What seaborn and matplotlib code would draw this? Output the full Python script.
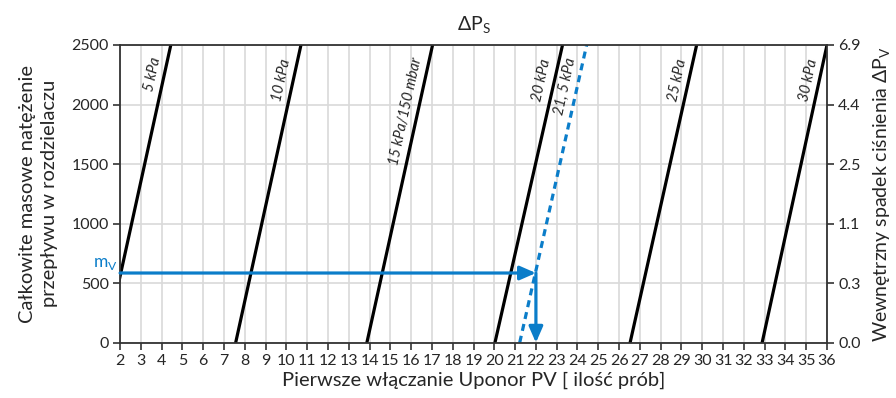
import matplotlib
matplotlib.use("Agg")
import matplotlib.pyplot as plt
import seaborn as sns
import pandas as pd
import numpy as np

# Pressure-drop curves: x at the bottom (0) and top (2500) of the flow range
curve_labels = ["5 kPa", "10 kPa", "15 kPa/150 mbar", "20 kPa", "25 kPa", "30 kPa"]
curve_x_bottom = [1.30, 7.56, 13.87, 20.03, 26.53, 32.88]
curve_x_top = [4.44, 10.70, 17.03, 23.28, 29.73, 36.00]

# Selected pressure drop (dashed)
sel_label = "21, 5 kPa"
sel_x_bottom = 21.22
sel_x_top = 24.44

flow_range = [0, 2500]

# Operating point
mv_flow = 585
mv_x = 22

# Axis ticks
x_ticks = list(range(2, 37))
y_ticks = [0, 500, 1000, 1500, 2000, 2500]
right_tick_labels = ["0.0", "0.3", "1.1", "2.5", "4.4", "6.9"]

# Label anchor points (data coords)
label_x = [3.56, 9.79, 15.74, 22.30, 28.80, 35.10]
label_y = [2256, 2206, 1941, 2206, 2206, 2206]
sel_label_x, sel_label_y = 23.41, 2156

BLUE = "#0b7dc9"

sns.set_theme(style="white")
plt.rcParams["font.family"] = ["Lato", "DejaVu Sans"]
plt.rcParams["mathtext.fontset"] = "custom"
plt.rcParams["mathtext.rm"] = "Lato"

fig = plt.figure(figsize=(8.96, 3.98), dpi=100)
ax = fig.add_axes([0.134, 0.139, 0.789, 0.748])

rows = []
for lab, xb, xt in zip(curve_labels, curve_x_bottom, curve_x_top):
    rows.append({"curve": lab, "x": xb, "y": flow_range[0]})
    rows.append({"curve": lab, "x": xt, "y": flow_range[1]})
df = pd.DataFrame(rows)

sns.lineplot(data=df, x="x", y="y", units="curve", estimator=None,
             color="black", lw=2.3, ax=ax, sort=False)

sel_df = pd.DataFrame({"x": [sel_x_bottom, sel_x_top], "y": flow_range})
sns.lineplot(data=sel_df, x="x", y="y", color=BLUE, lw=2.3,
             linestyle=(0, (2.2, 1.6)), ax=ax, sort=False)

ax.set_xlim(2, 36)
ax.set_ylim(0, 2500)
ax.set_xticks(x_ticks)
ax.set_yticks(y_ticks)
ax.grid(True, color="#d9d9d9", lw=1.2)
ax.set_axisbelow(True)

for s in ["left", "bottom", "top", "right"]:
    ax.spines[s].set_visible(True)
    ax.spines[s].set_color("#333333")
    ax.spines[s].set_linewidth(1.3)

ax.tick_params(axis="both", which="major", direction="out", length=5,
               width=1.2, color="#333333", labelsize=11.5, pad=3,
               bottom=True, left=True)
ax.set_xlabel("Pierwsze włączanie Uponor PV [ ilość prób]", fontsize=14.5, labelpad=3)
ax.set_ylabel("Całkowite masowe natężenie\nprzepływu w rozdzielaczu",
              fontsize=14.5, labelpad=10, linespacing=1.3)
ax.set_title("ΔP$_\\mathregular{S}$", fontsize=14, pad=10)

ax2 = ax.twinx()
ax2.set_ylim(0, 2500)
ax2.set_yticks(y_ticks)
ax2.set_yticklabels(right_tick_labels)
ax2.tick_params(axis="y", direction="out", length=5, width=1.2,
                color="#333333", labelsize=11.5, right=True, pad=3)
for s in ["left", "bottom", "top", "right"]:
    ax2.spines[s].set_visible(False)
ax2.set_ylabel("Wewnętrzny spadek ciśnienia ΔP$_\\mathregular{V}$",
               fontsize=14, labelpad=8)

# Curve labels along the lines
angle = 77.7
for lab, lx, ly in zip(curve_labels, label_x, label_y):
    ax.text(lx, ly, lab, rotation=angle, rotation_mode="anchor",
            ha="center", va="center", fontsize=10.5, style="italic")
ax.text(sel_label_x, sel_label_y, sel_label, rotation=angle,
        rotation_mode="anchor", ha="center", va="center",
        fontsize=10.5, style="italic")

# Operating point reading
ax.annotate("", xy=(mv_x, mv_flow), xytext=(2, mv_flow),
            arrowprops=dict(arrowstyle="-|>,head_length=0.8,head_width=0.35",
                            color=BLUE, lw=2.3, shrinkA=0, shrinkB=0),
            annotation_clip=False)
ax.annotate("", xy=(mv_x, 0), xytext=(mv_x, mv_flow),
            arrowprops=dict(arrowstyle="-|>,head_length=0.8,head_width=0.35",
                            color=BLUE, lw=2.3, shrinkA=0, shrinkB=0),
            annotation_clip=False)
ax.text(1.9, mv_flow + 5, "m$_\\mathregular{V}$", color=BLUE, ha="right",
        va="bottom", fontsize=12.5, clip_on=False)

fig.savefig("out.png", dpi=100)
